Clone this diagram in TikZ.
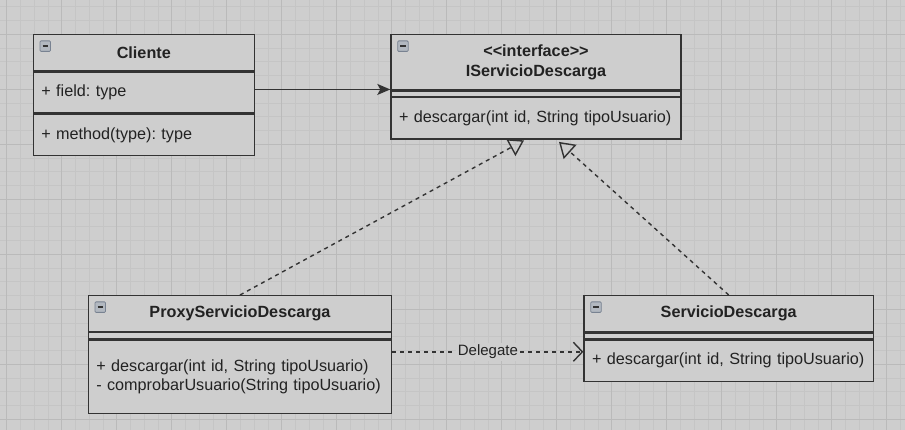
\documentclass[tikz,border=0pt]{standalone}
\usepackage{fontspec}
\newfontfamily\umlfont{Liberation Sans}
\usetikzlibrary{positioning,arrows.meta}
\definecolor{bgc}{RGB}{206,206,206}
\definecolor{minorc}{RGB}{197,197,197}
\definecolor{majorc}{RGB}{186,186,186}
\definecolor{linec}{RGB}{51,51,51}
\definecolor{textc}{RGB}{34,34,34}
\definecolor{togc}{RGB}{178,184,192}
\definecolor{togline}{RGB}{120,130,145}
\tikzset{
  classhead/.style={draw=linec,fill=bgc,line width=1.4pt,text=textc,inner sep=0pt,anchor=north,align=center,
    font=\umlfont\fontsize{16.2pt}{20.4pt}\selectfont\bfseries},
  classpart/.style={draw=linec,fill=bgc,line width=1.4pt,text=textc,inner xsep=8pt,inner ysep=0pt,align=left,
    font=\umlfont\fontsize{16.2pt}{18.3pt}\selectfont},
  classgap/.style={draw=linec,fill=bgc,line width=1.4pt,inner sep=0pt},
  toggle/.style={draw=togline,fill=togc,line width=0.8pt,rounded corners=1pt,minimum size=10.5pt,inner sep=0pt,anchor=north west,
    path picture={\draw[linec,line width=1.6pt] ([xshift=2.5pt]path picture bounding box.west) -- ([xshift=-2.5pt]path picture bounding box.east);}},
  assoc/.style={draw=linec,line width=1.4pt,-{Stealth[length=13pt,width=11pt,inset=3pt]}},
  realize/.style={draw=linec,line width=1.4pt,dash pattern=on 4pt off 4pt,-{Triangle[open,length=15pt,width=19pt]}},
  delegate/.style={draw=linec,line width=1.4pt,dash pattern=on 4pt off 4pt,-{Straight Barb[length=9pt,width=19pt]}},
  dlabel/.style={fill=bgc,text=textc,inner sep=2pt,font=\umlfont\fontsize{15pt}{18pt}\selectfont}
}
\begin{document}
\frenchspacing
\begin{tikzpicture}[x=1pt,y=1pt]
   \useasboundingbox (0,0) rectangle (905,-430);
   \fill[bgc] (0,0) rectangle (905,-430);
   \draw[minorc,line width=0.8pt,step=13.75pt,shift={(6.7,-34.3)}] (-20,-410) grid (910,40);
   \draw[majorc,line width=1pt,step=55pt,shift={(6.7,-34.3)}] (-20,-410) grid (910,40);

   \node[classhead,minimum width=221pt,minimum height=36pt] (clihead) at (143.8,-34) {Cliente};
   \node[classpart,below=0pt of clihead,text width=205pt,minimum height=40.7pt] (clif) {+ field: type};
   \node[classpart,below=0pt of clif,text width=205pt,minimum height=41.6pt] (clim) {+ method(type): type};

   \node[classhead,minimum width=290pt,minimum height=55pt] (ihead) at (536,-34) {<<interface>>\\IServicioDescarga};
   \node[classgap,below=0pt of ihead,minimum width=290pt,minimum height=5.3pt] (igap) {};
   \node[classpart,below=0pt of igap,text width=274pt,minimum height=41.4pt] (imeth) {+ descargar(int id, String tipoUsuario)};

   \node[classhead,minimum width=303.4pt,minimum height=35.7pt] (phead) at (240,-295) {ProxyServicioDescarga};
   \node[classgap,below=0pt of phead,minimum width=303.4pt,minimum height=6pt] (pgap) {};
   \node[classpart,below=0pt of pgap,text width=287.4pt,minimum height=73.3pt] (pmeth) {+ descargar(int id, String tipoUsuario)\\- comprobarUsuario(String tipoUsuario)\\[2pt]};

   \node[classhead,minimum width=289.3pt,minimum height=36pt] (shead) at (728.7,-295) {ServicioDescarga};
   \node[classgap,below=0pt of shead,minimum width=289.3pt,minimum height=5.7pt] (sgap) {};
   \node[classpart,below=0pt of sgap,text width=273.3pt,minimum height=41pt] (smeth) {+ descargar(int id, String tipoUsuario)};

   \node[toggle] (clitog) at ([shift={(7pt,-6.5pt)}]clihead.north west) {};
   \node[toggle] (itog) at ([shift={(7pt,-6.5pt)}]ihead.north west) {};
   \node[toggle] (ptog) at ([shift={(7pt,-6.5pt)}]phead.north west) {};
   \node[toggle] (stog) at ([shift={(7pt,-6.5pt)}]shead.north west) {};

   \coordinate (ireal1) at ([xshift=-12pt,yshift=-0.5pt]imeth.south);
   \coordinate (ireal2) at ([xshift=23pt,yshift=-2pt]imeth.south);
   \draw[assoc] ([yshift=3pt]clif.east) -- ([yshift=3pt]clif.east -| ihead.west);
   \draw[realize] (phead.north) -- (ireal1);
   \draw[realize] (shead.north) -- (ireal2);
   \draw[delegate] ([yshift=-12.3pt]pmeth.north east) -- node[dlabel] {Delegate} ([yshift=-12.3pt]pmeth.north east -| smeth.west);
\end{tikzpicture}
\end{document}
